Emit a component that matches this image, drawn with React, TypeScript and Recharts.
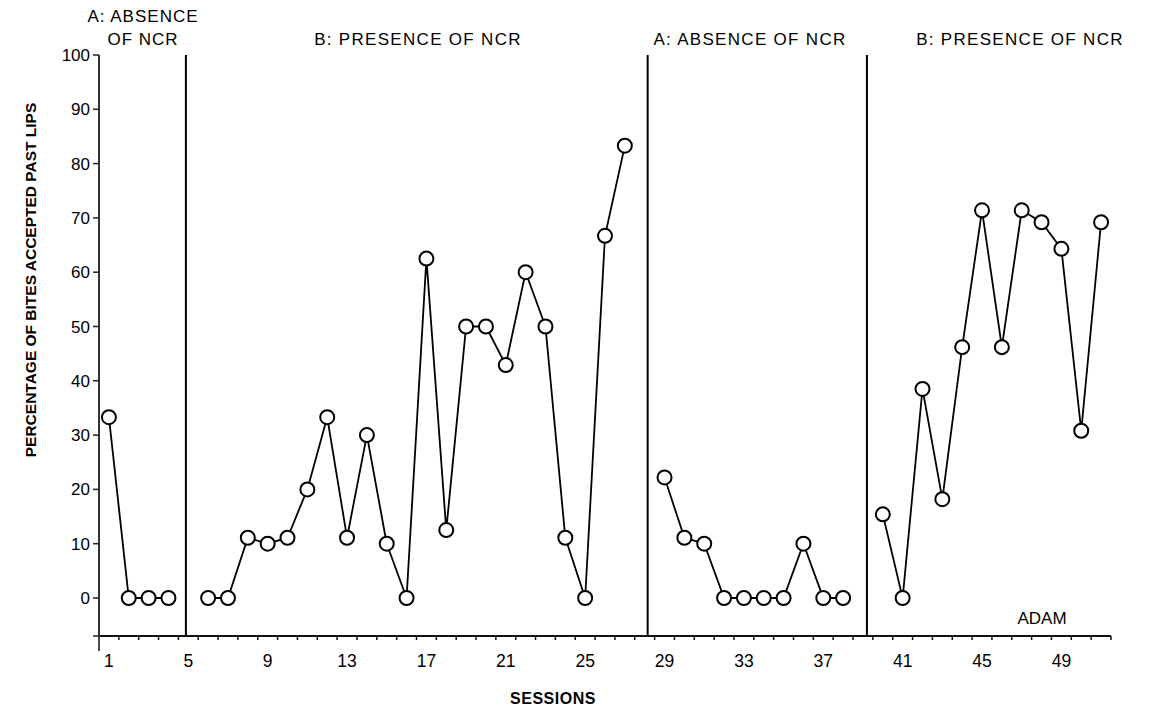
import React from "react";
import { LineChart, Line, XAxis, YAxis, ReferenceLine } from "recharts";

// percentage of bites accepted past lips, one array per phase
const phaseA1 = [33.3, 0, 0, 0];
const phaseB1 = [
  0, 0, 11.1, 10, 11.1, 20, 33.3, 11.1, 30, 10, 0, 62.5, 12.5, 50, 50, 42.9, 60, 50, 11.1, 0, 66.7, 83.3,
];
const phaseA2 = [22.2, 11.1, 10, 0, 0, 0, 0, 10, 0, 0];
const phaseB2 = [15.4, 0, 38.5, 18.2, 46.2, 71.4, 46.2, 71.4, 69.2, 64.3, 30.8, 69.2];

const phaseNames = ["A: ABSENCE OF NCR", "B: PRESENCE OF NCR", "A: ABSENCE OF NCR", "B: PRESENCE OF NCR"];
const phaseLineX = [4.88, 28.15, 39.2];
const xLabelTicks = [1, 5, 9, 13, 17, 21, 25, 29, 33, 37, 41, 45, 49];
const yTicks = [-7, 0, 10, 20, 30, 40, 50, 60, 70, 80, 90, 100];

const FONT = "'Liberation Sans', Arial, sans-serif";

type Row = { session: number; pct: number | null };

const buildRows = (): Row[] => {
  const rows: Row[] = [];
  let s = 1;
  const phases = [phaseA1, phaseB1, phaseA2, phaseB2];
  phases.forEach((p, i) => {
    p.forEach((v) => rows.push({ session: s++, pct: v }));
    // empty slot where the phase change line sits
    if (i < phases.length - 1) rows.push({ session: s++, pct: null });
  });
  return rows;
};

const data = buildRows();

const boundaryTicks: number[] = [];
for (let b = 0.5; b <= data.length + 0.5; b += 1) boundaryTicks.push(b);
const allXTicks = [...boundaryTicks, ...xLabelTicks].sort((a, b) => a - b);

const SessionTick = (props: any) => {
  const { x, y, payload } = props;
  const v = payload.value as number;
  if (Number.isInteger(v)) {
    return (
      <text x={x} y={y + 31} textAnchor="middle" fontSize={17.5} fontFamily={FONT} fill="#000">
        {v}
      </text>
    );
  }
  const len = v === 0.5 ? 15 : 4;
  return <line x1={x} x2={x} y1={y} y2={y + len} stroke="#111" strokeWidth={1.5} />;
};

export default function App() {
  return (
    <div style={{ position: "absolute", left: 0, top: 0, width: 1152, height: 719, background: "#fff" }}>
      <LineChart width={1152} height={719} data={data} margin={{ top: 55, right: 41, left: 59, bottom: 43 }}>
        <XAxis
          dataKey="session"
          type="number"
          domain={[0.5, data.length + 0.5]}
          ticks={allXTicks}
          interval={0}
          tick={<SessionTick />}
          tickLine={false}
          tickSize={0}
          tickMargin={0}
          axisLine={{ stroke: "#111", strokeWidth: 2 }}
          height={40}
          allowDataOverflow
        />
        <YAxis
          type="number"
          domain={[-7, 100]}
          ticks={yTicks}
          interval={0}
          width={40}
          tickSize={6}
          tickMargin={3}
          tickFormatter={(v: number) => (v < 0 ? "" : String(v))}
          tick={{ fontSize: 17, fill: "#000", fontFamily: FONT }}
          tickLine={{ stroke: "#222", strokeWidth: 1.5 }}
          axisLine={{ stroke: "#333", strokeWidth: 2 }}
          allowDataOverflow
        />
        {phaseLineX.map((x) => (
          <ReferenceLine key={x} x={x} stroke="#000" strokeWidth={2} />
        ))}
        <Line
          type="linear"
          dataKey="pct"
          stroke="#000"
          strokeWidth={1.8}
          connectNulls={false}
          dot={{ r: 7, fill: "#fff", stroke: "#000", strokeWidth: 2 }}
          activeDot={false}
          isAnimationActive={false}
        />
      </LineChart>
      <svg
        width={1152}
        height={719}
        style={{ position: "absolute", left: 0, top: 0, pointerEvents: "none" }}
        fontFamily={FONT}
      >
        <text x={143} y={22} textAnchor="middle" fontSize={17} letterSpacing={1}>
          A: ABSENCE
        </text>
        <text x={143} y={45} textAnchor="middle" fontSize={17} letterSpacing={1}>
          OF NCR
        </text>
        <text x={418} y={45} textAnchor="middle" fontSize={17} letterSpacing={1.3}>
          {phaseNames[1]}
        </text>
        <text x={750} y={45} textAnchor="middle" fontSize={17} letterSpacing={1.3}>
          {phaseNames[2]}
        </text>
        <text x={1020} y={45} textAnchor="middle" fontSize={17} letterSpacing={1.3}>
          {phaseNames[3]}
        </text>
        <text x={1042} y={624} textAnchor="middle" fontSize={17}>
          ADAM
        </text>
        <text
          x={0}
          y={0}
          transform="translate(36 280) rotate(-90)"
          textAnchor="middle"
          fontSize={15.5}
          fontWeight="bold"
        >
          PERCENTAGE OF BITES ACCEPTED PAST LIPS
        </text>
        <text x={553} y={704} textAnchor="middle" fontSize={16} fontWeight="bold" letterSpacing={0.5}>
          SESSIONS
        </text>
      </svg>
    </div>
  );
}
